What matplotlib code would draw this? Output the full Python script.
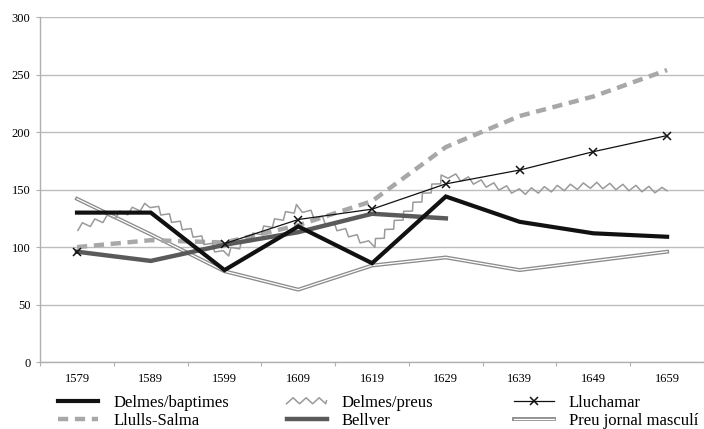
import numpy as np
import matplotlib
matplotlib.use("Agg")
import matplotlib.pyplot as plt
import matplotlib.patheffects as pe
from matplotlib.path import Path
from matplotlib.transforms import IdentityTransform

years = ["1579", "1589", "1599", "1609", "1619", "1629", "1639", "1649", "1659"]
nan = np.nan

delmes_baptimes = [130, 130, 80, 118, 86, 144, 122, 112, 109]
delmes_preus = [117, 137, 93, 135, 101, 163, 148, 154, 149]
lluchamar = [96, nan, 103, 124, 133, 155, 167, 183, 197]
llulls_salma = [100, 106, 104, 119, 140, 187, 214, 231, 254]
bellver = [96, 88, 102, 113, 129, 125, nan, nan, nan]
preu_jornal = [142, 111, 79, 63, 84, 91, 80, 88, 96]


class Zigzag(pe.AbstractPathEffect):
    # redraws a polyline as a zigzag, amplitude/period in points
    def __init__(self, amp=4.3, period=9.4):
        super().__init__()
        self.amp = amp
        self.period = period

    def draw_path(self, renderer, gc, tpath, affine, rgbFace=None):
        pts = affine.transform(tpath.vertices)
        pts = pts[~np.isnan(pts).any(axis=1)]
        if len(pts) < 2:
            return
        amp = renderer.points_to_pixels(self.amp)
        step = renderer.points_to_pixels(self.period) / 2
        seg = np.diff(pts, axis=0)
        seglen = np.hypot(seg[:, 0], seg[:, 1])
        cum = np.concatenate([[0], np.cumsum(seglen)])
        s = np.arange(0, cum[-1], step)
        out = []
        for k, sk in enumerate(s):
            i = min(np.searchsorted(cum, sk, side="right") - 1, len(seg) - 1)
            t = (sk - cum[i]) / seglen[i] if seglen[i] > 0 else 0
            p = pts[i] + t * seg[i]
            d = seg[i] / seglen[i] if seglen[i] > 0 else np.array([1.0, 0])
            n = np.array([-d[1], d[0]])
            out.append(p + (1 if k % 2 else -1) * amp * 0.5 * n)
        out.append(pts[-1])
        renderer.draw_path(gc, Path(np.array(out)), IdentityTransform(), rgbFace)


plt.rcParams["font.family"] = ["Liberation Serif", "DejaVu Serif"]

fig = plt.figure(figsize=(7.04, 4.29), dpi=100)
ax = fig.add_axes([0.057, 0.156, 0.943, 0.804])

x = np.arange(len(years)) + 0.5

l1, = ax.plot(x, delmes_baptimes, color="#111111", lw=3.0, solid_joinstyle="miter",
              label="Delmes/baptimes", zorder=6)
l2, = ax.plot(x, delmes_preus, color="#9a9a9a", lw=1.1, label="Delmes/preus",
              path_effects=[Zigzag()], zorder=4)
l3, = ax.plot(x, lluchamar, color="#111111", lw=0.9, marker="x", ms=6, mew=1.1,
              label="Lluchamar", zorder=5)
l4, = ax.plot(x, llulls_salma, color="#a8a8a8", lw=3.2, dashes=(2.3, 1.5),
              label="Llulls-Salma", zorder=3)
l5, = ax.plot(x, bellver, color="#5a5a5a", lw=3.2, label="Bellver", zorder=4)
l6, = ax.plot(x, preu_jornal, color="#8c8c8c", lw=2.8, label="Preu jornal masculí",
              path_effects=[pe.Stroke(linewidth=2.8, foreground="#8c8c8c"),
                            pe.Stroke(linewidth=0.9, foreground="white")], zorder=2)

ax.set_xlim(0, len(years))
ax.set_ylim(0, 300)
ax.set_yticks(range(0, 301, 50))
ax.set_xticks(np.arange(len(years) + 1))
ax.set_xticklabels([])
ax.set_xticks(x, minor=True)
ax.set_xticklabels(years, minor=True)
ax.tick_params(axis="x", which="minor", length=0, pad=8, labelsize=9)
ax.tick_params(axis="x", which="major", length=3, color="#b0b0b0", direction="out")
ax.tick_params(axis="y", length=3, color="#b0b0b0", labelsize=9, pad=4)

ax.grid(axis="y", color="#bdbdbd", lw=1)
ax.set_axisbelow(True)
for side in ["top", "right"]:
    ax.spines[side].set_visible(False)
for side in ["left", "bottom"]:
    ax.spines[side].set_color("#b0b0b0")
    ax.spines[side].set_linewidth(1)

# three one-column legends, placed like the original
leg_cols = [([l1, l4], 0.083), ([l2, l5], 0.407), ([l3, l6], 0.730)]
leg_style = dict(loc="center left", frameon=False, fontsize=12, handlelength=2.4,
                 handletextpad=0.9, labelspacing=0.15, borderpad=0, borderaxespad=0)
for handles, xpos in leg_cols:
    leg = fig.legend(handles, [h.get_label() for h in handles],
                     bbox_to_anchor=(xpos, 0.040), **leg_style)

fig.savefig("out.png", dpi=100)
